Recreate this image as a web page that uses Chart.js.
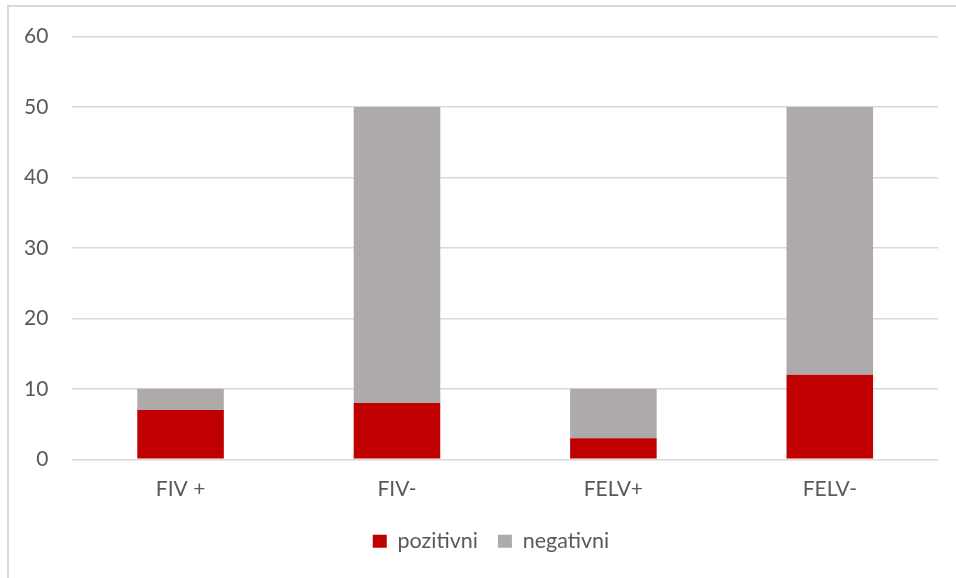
<!DOCTYPE html>
<html><head><meta charset="utf-8">
<script src="https://cdn.jsdelivr.net/npm/chart.js@4"></script>
<style>
html,body{margin:0;padding:0;background:#fff;}
#wrap{position:absolute;left:0;top:0;width:956px;height:578px;}
#frame{position:absolute;left:7px;top:5px;width:960px;height:600px;border-left:2px solid #d9d9d9;border-top:2px solid #d9d9d9;box-sizing:border-box;}
canvas{position:absolute;left:0;top:0;}
</style></head><body>
<div id="wrap"><div id="frame"></div><canvas id="c" width="956" height="578"></canvas></div>
<script>
const categories = ["FIV +", "FIV-", "FELV+", "FELV-"];
const pozitivni = [7, 8, 3, 12];
const negativni = [3, 42, 7, 38];
const yTicks = [0, 10, 20, 30, 40, 50, 60];

const textColor = "#595959";
const fontFam = "Lato, 'Open Sans', sans-serif";

const legendShift = {
  id: "legendShift",
  afterLayout(chart) {
    const lg = chart.legend;
    if (lg) { lg.left += 22; lg.right += 22; }
  }
};

new Chart(document.getElementById("c"), {
  type: "bar",
  data: {
    labels: categories,
    datasets: [
      {label: "pozitivni", data: pozitivni, backgroundColor: "#c00000", barPercentage: 0.4, categoryPercentage: 1.0},
      {label: "negativni", data: negativni, backgroundColor: "#aeaaaa", barPercentage: 0.4, categoryPercentage: 1.0}
    ]
  },
  plugins: [legendShift],
  options: {
    responsive: false,
    animation: false,
    layout: {padding: {left: 0, right: 18, top: 24, bottom: 16}},
    plugins: {
      legend: {
        position: "bottom",
        labels: {color: textColor, font: {family: fontFam, size: 21.5}, boxWidth: 14, boxHeight: 13, padding: 20}
      },
      tooltip: {enabled: false}
    },
    scales: {
      x: {
        stacked: true,
        grid: {display: false},
        border: {display: false},
        ticks: {color: textColor, font: {family: fontFam, size: 21}, padding: 9}
      },
      y: {
        stacked: true,
        min: 0, max: 60,
        afterBuildTicks: (axis) => { axis.ticks = yTicks.map(v => ({value: v})); },
        grid: {color: "#d9d9d9", lineWidth: 1.5, drawTicks: false},
        border: {display: false},
        ticks: {color: textColor, font: {family: fontFam, size: 21}, padding: 24}
      }
    }
  }
});
</script>
</body></html>
